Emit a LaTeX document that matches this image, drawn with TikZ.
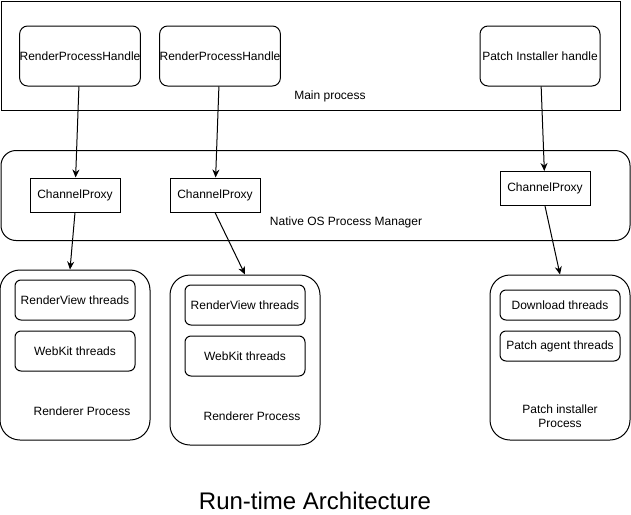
\documentclass[tikz,border=0pt]{standalone}
\usepackage{fontspec}
\setmainfont{Liberation Sans}
\usetikzlibrary{arrows.meta,positioning}
\tikzstyle{txt}=[font=\fontsize{12}{14}\selectfont, align=center]
\tikzstyle{block}=[draw, line width=1pt, rounded corners=8pt, minimum width=120pt, minimum height=60pt, inner sep=0pt, txt]
\tikzstyle{proxy}=[draw, line width=1pt, minimum width=90pt, minimum height=34pt, inner sep=0pt, txt]
\tikzstyle{thread}=[draw, line width=1pt, rounded corners=6pt, minimum width=120pt, minimum height=40pt, inner sep=0pt, txt]
\tikzstyle{process}=[draw, line width=1pt, rounded corners=20pt, minimum width=150pt, minimum height=170pt, inner sep=0pt]
\tikzstyle{arrow}=[line width=1pt, -{Stealth[length=8pt,width=7pt]}]

\begin{document}
\begin{tikzpicture}[x=1pt,y=-1pt,node distance=10pt]
\useasboundingbox (0,0) rectangle (631,514);
% main process
\node (main) [draw, line width=1pt, minimum width=619pt, minimum height=109pt, anchor=north west] at (0.5,0.5) {};
\node (mainlbl) [txt] at (330,96) {Main process};
\node (rph1) [block] at (80,56) {RenderProcessHandle};
\node (rph2) [block] at (220,56) {RenderProcessHandle};
\node (pih) [block] at (540,56) {Patch Installer handle};

% native os
\node (os) [draw, line width=1pt, rounded corners=15pt, minimum width=629pt, minimum height=90pt, anchor=north west] at (0.5,150) {};
\node (oslbl) [txt] at (346,222) {Native OS Process Manager};
\node (cp1) [proxy] at (75,195) {ChannelProxy};
\node (cp2) [proxy] at (215,195) {ChannelProxy};
\node (cp3) [proxy] at (545,188.5) {ChannelProxy};

% processes
\node (rp1) [process] at (75,355) {};
\node (rv1) [thread, below=of rp1.north] {RenderView threads};
\node (wk1) [thread, below=of rv1] {WebKit threads};
\node (rp1lbl) [txt] at (82,411) {Renderer Process};

\node (rp2) [process] at (245,360) {};
\node (rv2) [thread, below=of rp2.north] {RenderView threads};
\node (wk2) [thread, below=of rv2] {WebKit threads};
\node (rp2lbl) [txt] at (252,416) {Renderer Process};

\node (pp) [process, minimum width=140pt, minimum height=165pt] at (560,357.5) {};
\node (dl) [thread, minimum height=30pt, below=15pt of pp.north] {Download threads};
\node (pa) [thread, minimum height=30pt, below=of dl] {Patch agent threads};
\node (pplbl) [txt] at (560,416) {Patch installer\\Process};

\draw[arrow] (rph1) -- (cp1);
\draw[arrow] (rph2) -- (cp2);
\draw[arrow] (pih) -- (cp3);
\draw[arrow] (cp1.south) -- ([xshift=-5pt]rp1.north);
\draw[arrow] (cp2.south) -- (rp2.north);
\draw[arrow] (cp3.south) -- (pp.north);

\node (title) [font=\fontsize{24}{28}\selectfont] at (315,501) {Run-time Architecture};
\end{tikzpicture}
\end{document}
